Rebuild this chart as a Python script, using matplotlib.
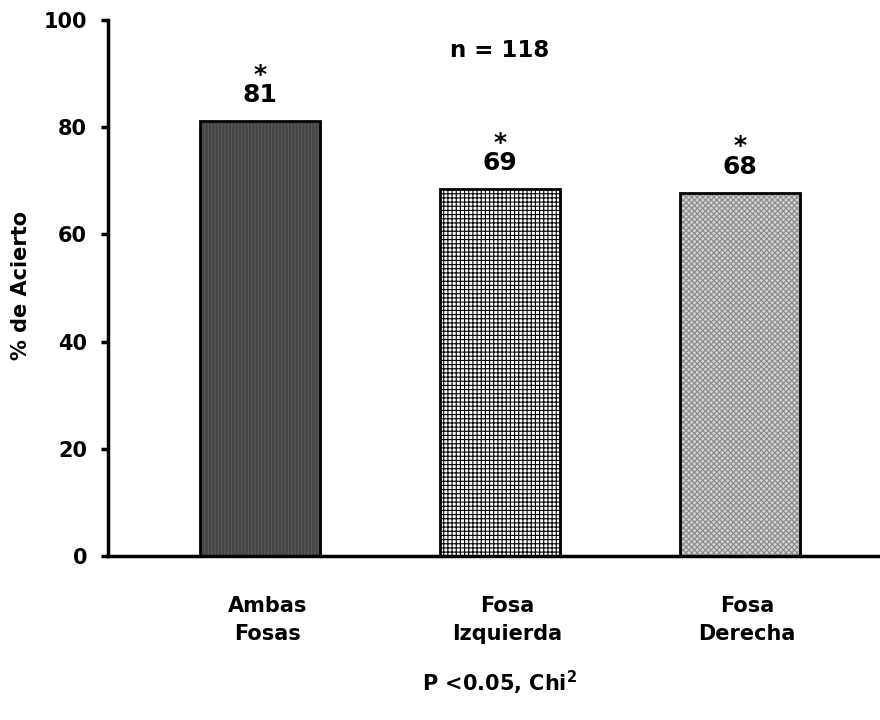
import numpy as np
import matplotlib.pyplot as plt

categories = ['Ambas\nFosas', 'Fosa\nIzquierda', 'Fosa\nDerecha']
values = [81.1, 68.5, 67.8]
value_labels = ['81', '69', '68']
face_colors = ['#454545', 'white', '#d0d0d0']
hatches = ['|||||', '++++', 'xxxxxx']
hatch_colors = ['#5a5a5a', 'black', '#8a8a8a']

plt.rcParams['font.family'] = ['DejaVu Sans']
plt.rcParams['font.weight'] = 'bold'
plt.rcParams['hatch.linewidth'] = 0.8

fig = plt.figure(figsize=(8.8, 7.2), dpi=100)
ax = fig.add_axes([0.1227, 0.2278, 0.8773, 0.7444])

x = np.arange(len(categories))
# hatched fill first, then a black outline on top
ax.bar(x, values, width=0.5, color=face_colors, edgecolor=hatch_colors,
       hatch=hatches, linewidth=0, zorder=2)
ax.bar(x, values, width=0.5, fill=False, edgecolor='black', linewidth=2, zorder=3)

# significance star stacked over the value
for xi, v, lab in zip(x, values, value_labels):
    ax.text(xi, v + 2.6, '*\n' + lab, ha='center', va='bottom', fontsize=18,
            fontweight='bold', linespacing=0.8, multialignment='center')

ax.text(1, 94.3, 'n = 118', ha='center', va='center', fontsize=16.5, fontweight='bold')

ax.set_xlim(-0.633, 2.583)
ax.set_ylim(0, 100)
ax.set_yticks([0, 20, 40, 60, 80, 100])
ax.set_xticks(x + 0.03)
ax.set_xticklabels(categories, fontsize=15, fontweight='bold', linespacing=1.5)
ax.tick_params(axis='x', length=0, pad=29)
ax.tick_params(axis='y', direction='out', length=5, width=2.5, labelsize=15, pad=10)
for t in ax.get_yticklabels():
    t.set_fontweight('bold')

ax.spines['top'].set_visible(False)
ax.spines['right'].set_visible(False)
ax.spines['left'].set_linewidth(2.5)
ax.spines['bottom'].set_linewidth(2.5)

ax.set_ylabel('% de Acierto', fontsize=15, fontweight='bold')
ax.yaxis.set_label_coords(-0.1, 0.505)
fig.text(0.568, 0.051, r'P <0.05, Chi$^\mathbf{2}$', ha='center', va='center',
         fontsize=15, fontweight='bold')

fig.savefig('out.png', dpi=100)
